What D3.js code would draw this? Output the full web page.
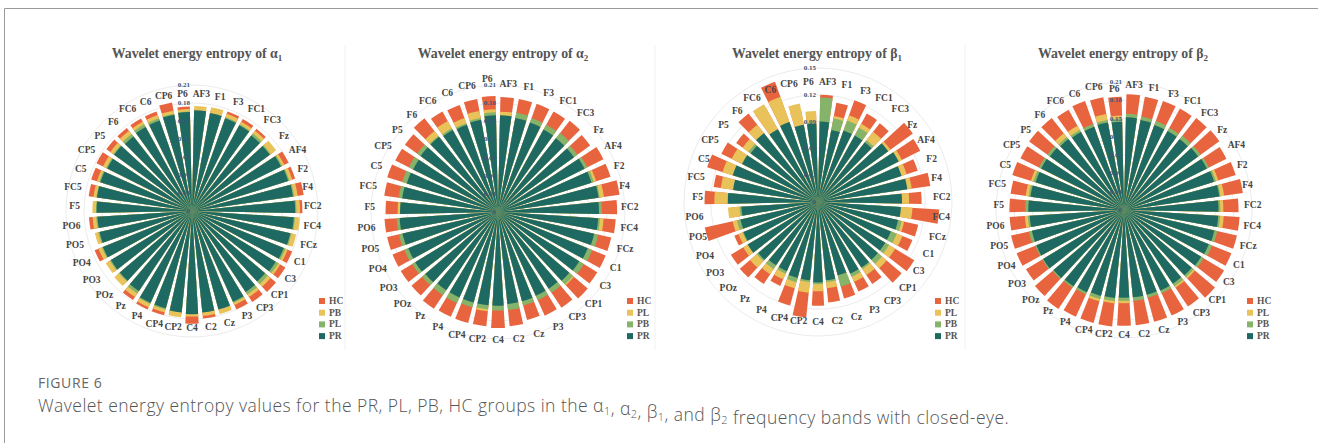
<!DOCTYPE html>
<html>
<head>
<meta charset="utf-8">
<title>Figure 6</title>
<style>
  body { margin: 0; background: #fff; }
  svg text { font-family: "Liberation Serif", "Times New Roman", serif; }
  svg text.cap { font-family: "Open Sans", Lato, sans-serif; }
</style>
<script src="https://d3js.org/d3.v7.min.js"></script>
</head>
<body>
<svg id="fig" width="1318" height="443"></svg>
<script>
// electrode order, clockwise from 12 o'clock
const channels = ["AF3","F1","F3","FC1","FC3","Fz","AF4","F2","F4","FC2","FC4","FCz","C1","C3","CP1","CP3","P3","Cz","C2","C4",
                  "CP2","CP4","P4","Pz","POz","PO3","PO4","PO5","PO6","F5","FC5","C5","CP5","P5","F6","FC6","C6","CP6","P6"];

// legend orders (first panel labels yellow/green the other way round)
const legendA1 = ["HC","PB","PL","PR"];
const legendRest = ["HC","PL","PB","PR"];
const colors = ["#e8643f","#e9c35a","#86b36a","#1e6a62"];

// alpha 1
const a1HC = [.170,.170,.176,.175,.174,.168,.180,.180,.188,.184,.176,.174,.180,.182,.184,.182,.180,.174,.180,.188,
              .174,.180,.180,.178,.165,.165,.175,.162,.172,.162,.174,.176,.178,.176,.176,.176,.176,.184,.174];
const a1PB = [.175,.176,.172,.170,.170,.173,.172,.175,.178,.180,.180,.178,.172,.172,.172,.172,.172,.178,.176,.176,
              .178,.175,.176,.172,.170,.168,.168,.166,.166,.166,.166,.166,.166,.168,.170,.170,.170,.170,.170];
const a1PL = [.165,.165,.166,.165,.164,.162,.168,.170,.172,.174,.172,.170,.168,.168,.166,.167,.168,.168,.170,.170,
              .168,.170,.170,.165,.160,.160,.162,.160,.160,.160,.161,.162,.160,.162,.163,.165,.164,.165,.166];
const a1PR = [.168,.166,.164,.163,.160,.160,.166,.168,.170,.172,.170,.168,.165,.163,.160,.162,.166,.170,.170,.172,
              .170,.168,.168,.160,.158,.158,.160,.158,.158,.159,.160,.160,.158,.160,.158,.160,.160,.163,.165];

// alpha 2
const a2HC = [.190,.190,.190,.190,.192,.188,.195,.195,.203,.197,.195,.192,.192,.192,.195,.190,.188,.185,.190,.192,
              .190,.190,.190,.192,.188,.188,.188,.188,.188,.186,.190,.192,.190,.190,.197,.190,.188,.190,.192];
const a2PL = [.166,.162,.160,.160,.162,.160,.163,.170,.177,.170,.175,.166,.165,.162,.165,.158,.157,.158,.160,.162,
              .165,.160,.160,.160,.160,.162,.162,.165,.165,.166,.162,.162,.160,.160,.170,.172,.165,.170,.170];
const a2PB = [.158,.167,.165,.165,.166,.162,.165,.166,.170,.172,.169,.170,.168,.166,.163,.160,.160,.160,.163,.163,
              .162,.163,.165,.165,.165,.166,.167,.168,.168,.160,.166,.166,.165,.165,.160,.158,.156,.158,.165];
const a2PR = [.160,.158,.157,.156,.155,.155,.160,.162,.168,.167,.166,.163,.160,.157,.155,.152,.152,.153,.153,.155,
              .155,.155,.155,.155,.158,.160,.160,.162,.163,.162,.160,.158,.157,.158,.158,.155,.153,.155,.160];

// beta 1
const b1HC = [.120,.113,.121,.113,.112,.131,.128,.117,.127,.116,.136,.115,.114,.126,.123,.110,.110,.112,.113,.116,
              .130,.120,.103,.110,.115,.114,.101,.130,.097,.127,.118,.130,.121,.113,.126,.120,.143,.105,.098];
const b1PL = [.112,.098,.103,.100,.100,.100,.105,.104,.106,.102,.106,.099,.102,.101,.101,.098,.098,.095,.097,.100,
              .102,.100,.095,.097,.100,.098,.096,.098,.101,.116,.110,.112,.108,.104,.110,.125,.125,.112,.102];
const b1PB = [.117,.095,.097,.095,.088,.095,.098,.095,.098,.094,.093,.096,.095,.093,.094,.090,.092,.098,.090,.092,
              .090,.093,.088,.090,.090,.092,.091,.093,.088,.100,.096,.100,.095,.096,.098,.093,.095,.088,.085];
const b1PR = [.090,.082,.085,.085,.085,.097,.101,.098,.101,.094,.093,.092,.088,.088,.088,.088,.088,.085,.088,.090,
              .088,.088,.085,.085,.088,.092,.090,.089,.086,.101,.096,.100,.095,.093,.098,.093,.095,.088,.088];

// beta 2
const b2HC = [.190,.189,.190,.190,.192,.193,.188,.192,.197,.188,.190,.190,.190,.192,.196,.190,.190,.190,.190,.190,
              .192,.192,.192,.195,.192,.188,.190,.190,.188,.188,.188,.192,.190,.192,.192,.188,.190,.188,.186];
const b2PL = [.155,.153,.152,.152,.152,.153,.154,.162,.166,.163,.164,.155,.153,.151,.153,.153,.148,.147,.147,.153,
              .154,.155,.150,.151,.153,.156,.156,.158,.163,.160,.163,.160,.155,.152,.160,.158,.148,.160,.155];
const b2PB = [.158,.156,.155,.154,.155,.155,.156,.158,.160,.158,.158,.157,.156,.153,.150,.150,.150,.149,.150,.149,
              .150,.151,.152,.153,.154,.157,.157,.160,.158,.162,.158,.156,.156,.155,.152,.150,.150,.150,.150];
const b2PR = [.152,.150,.148,.148,.148,.150,.152,.155,.158,.155,.155,.152,.150,.148,.146,.145,.145,.144,.144,.144,
              .145,.146,.148,.150,.152,.155,.155,.155,.155,.157,.155,.152,.152,.150,.148,.146,.145,.146,.145];

const panels = [
  {band: "α", sub: "1", names: legendA1, series: [a1HC, a1PB, a1PL, a1PR], max: 0.21,
   cx: 192, cy: 211, R: 126, labR: 112, titleX: 197, legX: 319},
  {band: "α", sub: "2", names: legendRest, series: [a2HC, a2PL, a2PB, a2PR], max: 0.21,
   cx: 498, cy: 212, R: 127, labR: 123, titleX: 503, legX: 627},
  {band: "β", sub: "1", names: legendRest, series: [b1HC, b1PL, b1PB, b1PR], max: 0.15,
   cx: 818, cy: 202, R: 134, labR: 115, titleX: 817, legX: 935},
  {band: "β", sub: "2", names: legendRest, series: [b2HC, b2PL, b2PB, b2PR], max: 0.21,
   cx: 1124, cy: 210, R: 128, labR: 120, titleX: 1123, legX: 1247}
];

const svg = d3.select("#fig");

// card frame
svg.append("path").attr("d", "M4.5,443 V8.5 H1318")
  .attr("fill", "none").attr("stroke", "#9a9a9a").attr("stroke-width", 1);

// faint separators between panels
[345, 655, 965].forEach(x => {
  svg.append("line").attr("x1", x).attr("x2", x).attr("y1", 45).attr("y2", 350)
    .attr("stroke", "#f1f1f1");
});

const angle = d3.scaleBand().domain(channels).range([0, 2 * Math.PI])
  .paddingInner(0.26).paddingOuter(0.13);

// box test with a little vertical slack (glyph boxes are taller than the ink)
const overlaps = (a, b) => a.x < b.x + b.width && b.x < a.x + a.width &&
  a.y + 1.5 < b.y + b.height - 1.5 && b.y + 1.5 < a.y + a.height - 1.5;

panels.forEach(p => {
  const g = svg.append("g").attr("transform", `translate(${p.cx},${p.cy})`);
  const r = d3.scaleLinear().domain([0, p.max]).range([0, p.R]);
  const ticks = d3.range(0, p.max + 1e-9, 0.03);

  // grid circles
  g.selectAll("circle.grid").data(ticks.slice(1)).join("circle")
    .attr("r", d => r(d)).attr("fill", "none").attr("stroke", "#ececec");

  // bars, HC at the back, PR in front
  p.series.forEach((vals, k) => {
    const arc = d3.arc().innerRadius(0)
      .startAngle((d, i) => angle(channels[i]))
      .endAngle((d, i) => angle(channels[i]) + angle.bandwidth())
      .outerRadius(d => r(d));
    g.append("g").selectAll("path").data(vals).join("path")
      .attr("d", (d, i) => arc(d, i))
      .attr("fill", colors[k]);
  });

  // radius tick labels along the 12 o'clock axis
  const tk = g.selectAll("text.tk").data(ticks).join("text")
    .attr("class", "tk")
    .attr("x", -2).attr("y", d => -r(d))
    .attr("text-anchor", "end").attr("dominant-baseline", "central")
    .attr("font-size", 7).attr("font-weight", "bold").attr("fill", "#3a5673")
    .text(d => d === 0 ? "0" : d3.format(".2f")(d));
  const tkBoxes = tk.nodes().map(n => n.getBBox());

  // channel labels, nudged along the radius if they would sit on a tick label
  g.selectAll("text.ch").data(channels).join("text")
    .attr("class", "ch")
    .attr("font-size", 9.5).attr("font-weight", "bold").attr("fill", "#444")
    .attr("text-anchor", "middle").attr("dominant-baseline", "central")
    .text(d => d)
    .each(function (d) {
      const a = angle(d) + angle.bandwidth() / 2;
      const w = this.getComputedTextLength();
      const s = Math.sin(a), c = Math.cos(a);
      const r0 = p.labR + (w / 2) * Math.abs(s) + 4.5 * Math.abs(c);
      const sel = d3.select(this);
      const tries = [0];
      for (let k = 1; k <= 20; k++) tries.push(k, -k);
      for (const dr of tries) {
        sel.attr("x", (r0 + dr) * s).attr("y", -(r0 + dr) * c);
        const bb = this.getBBox();
        if (!tkBoxes.some(t => overlaps(bb, t))) break;
      }
    });

  // title
  const t = svg.append("text").attr("x", p.titleX).attr("y", 58)
    .attr("text-anchor", "middle").attr("font-size", 13.8).attr("font-weight", "bold").attr("fill", "#555");
  t.append("tspan").text("Wavelet energy entropy of " + p.band);
  t.append("tspan").attr("dy", 3).attr("font-size", 9).text(p.sub);

  // legend
  const lg = svg.append("g").attr("transform", `translate(${p.legX},301)`);
  p.names.forEach((n, k) => {
    lg.append("rect").attr("x", 0).attr("y", k * 11.7 - 3).attr("width", 6).attr("height", 6).attr("fill", colors[k]);
    lg.append("text").attr("x", 10).attr("y", k * 11.7).attr("dominant-baseline", "central")
      .attr("font-size", 9.5).attr("font-weight", "bold").attr("fill", "#555").text(n);
  });
});

// caption
svg.append("text").attr("class", "cap").attr("x", 38).attr("y", 388)
  .attr("font-size", 14).attr("letter-spacing", 0.6).attr("fill", "#666").attr("font-weight", 500).text("FIGURE 6");

const cap = svg.append("text").attr("class", "cap").attr("x", 38).attr("y", 412)
  .attr("font-size", 17.5).attr("letter-spacing", 0.46).attr("fill", "#555").attr("font-weight", 300);
const capParts = [["Wavelet energy entropy values for the PR, PL, PB, HC groups in the α", "1"],
                  [", α", "2"], [", β", "1"], [", and β", "2"],
                  [" frequency bands with closed-eye.", null]];
capParts.forEach(([txt, sub]) => {
  cap.append("tspan").text(txt);
  if (sub) {
    cap.append("tspan").attr("dy", 3).attr("font-size", 11).text(sub);
    cap.append("tspan").attr("dy", -3).text("");
  }
});
</script>
</body>
</html>
